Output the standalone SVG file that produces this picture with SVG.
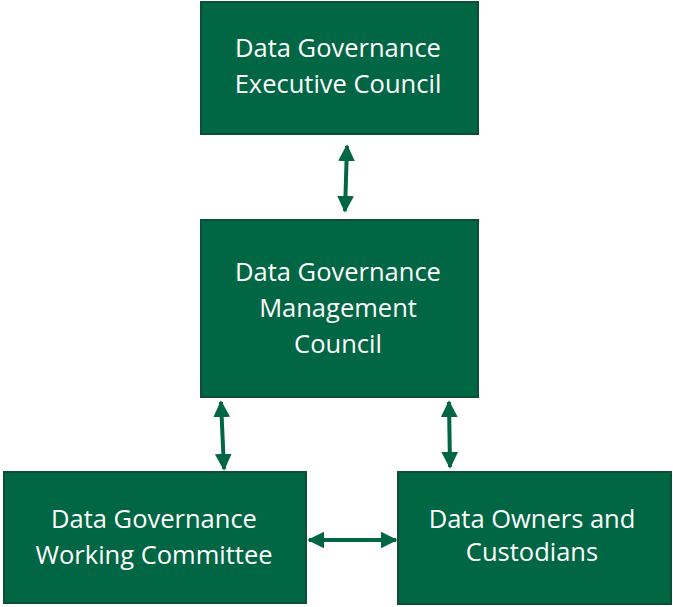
<svg xmlns="http://www.w3.org/2000/svg" width="673" height="607" viewBox="0 0 673 607">
  <style>
    .box { fill: #006643; stroke: #0e4f33; stroke-width: 2; }
    .lbl { fill: #ffffff; font-family: "Open Sans", "Liberation Sans", sans-serif; font-size: 25.5px; text-anchor: middle; }
    .link { stroke: #006643; stroke-width: 4; fill: none; marker-start: url(#head); marker-end: url(#head); }
  </style>
  <defs>
    <marker id="head" viewBox="0 0 10 10" refX="9" refY="5" markerWidth="4.2" markerHeight="4.6" orient="auto-start-reverse" markerUnits="strokeWidth">
      <path d="M0,0 L10,5 L0,10 z" fill="#006643"/>
    </marker>
  </defs>

  <g id="executive-council">
    <rect class="box" x="201" y="2" width="277" height="132"/>
    <text class="lbl" x="338" y="57">Data Governance</text>
    <text class="lbl" x="338" y="93">Executive Council</text>
  </g>

  <g id="management-council">
    <rect class="box" x="201" y="220" width="277" height="177"/>
    <text class="lbl" x="338" y="281">Data Governance</text>
    <text class="lbl" x="338" y="317">Management</text>
    <text class="lbl" x="338" y="353">Council</text>
  </g>

  <g id="working-committee">
    <rect class="box" x="4" y="472" width="302" height="131"/>
    <text class="lbl" x="154" y="528">Data Governance</text>
    <text class="lbl" x="154" y="564">Working Committee</text>
  </g>

  <g id="owners-custodians">
    <rect class="box" x="398" y="472" width="273" height="132"/>
    <text class="lbl" x="532" y="528">Data Owners and</text>
    <text class="lbl" x="532" y="561">Custodians</text>
  </g>

  <g id="connectors">
    <line class="link" x1="347" y1="146" x2="345" y2="211"/>
    <line class="link" x1="221" y1="402" x2="224" y2="469"/>
    <line class="link" x1="449" y1="402" x2="450" y2="467"/>
    <line class="link" x1="309" y1="540" x2="396" y2="540"/>
  </g>
</svg>
